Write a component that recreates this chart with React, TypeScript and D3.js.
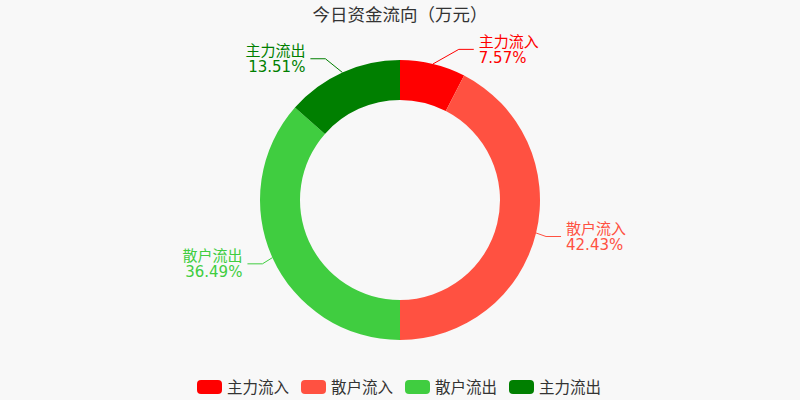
import * as d3 from "d3";

const names = ["主力流入", "散户流入", "散户流出", "主力流出"];
const shares = [7.57, 42.43, 36.49, 13.51];
const colors = ["#ff0000", "#ff5141", "#40cd40", "#007f00"];
const title = "今日资金流向（万元）";

const W = 800;
const H = 400;
const cx = 400;
const cy = 200;
const outerR = 140;
const innerR = 100;
// echarts-like label line lengths
const len1 = 15;
const len2 = 15;
const labelGap = 5;

type Slice = { name: string; value: number; color: string };

export default function App() {
  const data: Slice[] = names.map((n, i) => ({ name: n, value: shares[i], color: colors[i] }));
  const pie = d3.pie<Slice>().value((d) => d.value).sort(null);
  const arcs = pie(data);
  const arc = d3.arc<d3.PieArcDatum<Slice>>().innerRadius(innerR).outerRadius(outerR);
  const total = d3.sum(shares);

  // label layout: elbow y is radial, x snapped onto a circle of r+len1+len2
  const labels = arcs.map((a) => {
    const mid = (a.startAngle + a.endAngle) / 2;
    const dx = Math.sin(mid);
    const dy = -Math.cos(mid);
    const dir = dx < 0 ? -1 : 1;
    const x1 = cx + outerR * dx;
    const y1 = cy + outerR * dy;
    const y2 = cy + (outerR + len1) * dy;
    const R = outerR + len1 + len2;
    const ddy = Math.abs(y2 - cy);
    const tx = cx + dir * Math.sqrt(R * R - ddy * ddy);
    const x3 = tx - dir * labelGap;
    const x2 = x3 - dir * len2;
    return { a, dir, pts: [[x1, y1], [x2, y2], [x3, y2]] as [number, number][], tx, ty: y2 };
  });

  const legendX = d3.scaleBand<string>().domain(names).range([197, 613]).paddingInner(0);

  return (
    <div style={{ width: W, height: H }}>
      <style>{`body{margin:0;background:#f8f8f8}`}</style>
      <svg width={W} height={H} style={{ display: "block", background: "#f8f8f8" }} fontFamily="'DejaVu Sans', 'Noto Sans CJK SC', sans-serif">
        <text x={cx} y={21} textAnchor="middle" fontSize={17.5} fill="#333">
          {title}
        </text>
        <g transform={`translate(${cx},${cy})`}>
          {arcs.map((a, i) => (
            <path key={i} d={arc(a) || ""} fill={a.data.color} />
          ))}
        </g>
        {labels.map((l, i) => (
          <g key={i}>
            <path d={d3.line()(l.pts) || ""} fill="none" stroke={l.a.data.color} strokeWidth={1} />
            <text x={l.tx} textAnchor={l.dir < 0 ? "end" : "start"} fontSize={15} fill={l.a.data.color}>
              <tspan x={l.tx} y={l.ty - 2.5}>{l.a.data.name}</tspan>
              <tspan x={l.tx} y={l.ty + 13.5}>{((l.a.data.value / total) * 100).toFixed(2)}%</tspan>
            </text>
          </g>
        ))}
        {names.map((n, i) => {
          const x = legendX(n) || 0;
          return (
            <g key={n} transform={`translate(${x},380)`}>
              <rect width={25} height={14} rx={4} ry={4} fill={colors[i]} />
              <text x={30} y={13} fontSize={15.5} fill="#333">
                {n}
              </text>
            </g>
          );
        })}
      </svg>
    </div>
  );
}
